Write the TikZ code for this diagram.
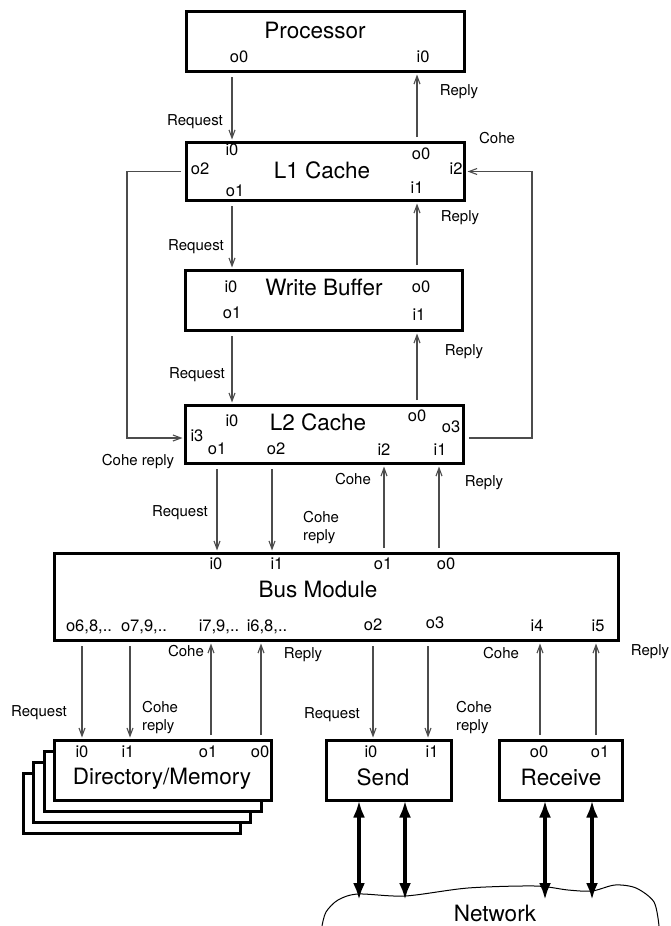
\documentclass[tikz,border=0pt]{standalone}
\usepackage{fontspec}
\setmainfont{TeX Gyre Heros}
\usetikzlibrary{arrows.meta}

\begin{document}
\begin{tikzpicture}[x=1pt,y=-1pt,
 box/.style={draw,line width=3pt,fill=white,inner sep=0pt,outer sep=0pt},
 ttl/.style={font=\fontsize{22.5}{26}\selectfont,inner sep=0pt},
 port/.style={font=\fontsize{16.5}{19}\selectfont,inner sep=0pt},
 lbl/.style={font=\fontsize{15}{18}\selectfont,inner sep=0pt,align=left},
 sig/.style={draw=black!70,line width=1.1pt,shorten <=5.5pt,shorten >=3pt,
  -{Straight Barb[length=8pt,width=6pt]}},
 link/.style={line width=4.5pt,{Latex[length=17pt,width=12pt]}-{Latex[length=17pt,width=12pt]}}]
 \useasboundingbox (0,0) rectangle (670,926);
 % columns of the connectors
 \foreach \n/\x in {xA/232,xB/417,xC/217,xD/272,xE/384,xF/439,xG/82,xH/130,xI/211,
  xJ/261,xK/373,xL/428,xM/540,xN/596}
  \coordinate (\n) at (\x,0);
 % boxes
 \node[box,minimum width=278pt,minimum height=60pt] (proc) at (325.5,41.5) {};
 \node[box,minimum width=278pt,minimum height=58pt] (l1) at (325.5,171.5) {};
 \node[box,minimum width=277pt,minimum height=60pt] (wb) at (324,300.5) {};
 \node[box,minimum width=278pt,minimum height=58pt] (l2) at (324.5,434.5) {};
 \node[box,minimum width=564pt,minimum height=87pt] (bus) at (336.5,597) {};
 \coordinate (dirc) at (163,770.5);
 \foreach \k in {3,2,1}
  \node[box,minimum width=217pt,minimum height=60pt] (dir\k) at ([shift={(-10.5*\k,11*\k)}]dirc) {};
 \node[box,minimum width=217pt,minimum height=60pt] (dir) at (dirc) {};
 \node[box,minimum width=125pt,minimum height=60pt] (send) at (389,770.5) {};
 \node[box,minimum width=123pt,minimum height=60pt] (recv) at (561,770.5) {};
 % titles
 \node[ttl] (procT) at (315,30) {Processor};
 \node[ttl] (l1T) at (322,170) {L1 Cache};
 \node[ttl] (wbT) at (324,287) {Write Buffer};
 \node[ttl] (l2T) at (318,422) {L2 Cache};
 \node[ttl] (busT) at (318,589) {Bus Module};
 \node[ttl] (dirT) at (162,779) {Directory/Memory};
 \node[ttl] (sendT) at (383,777) {Send};
 \node[ttl] (recvT) at (561,777) {Receive};
 % ports
 \foreach \n/\t/\x/\y in {pO0/o0/239/57,pI0/i0/423/57,
  aI0/i0/232/150,aO0/o0/421/154,aO2/o2/200/169,aI2/i2/456/169,aO1/o1/235/191,aI1/i1/417/188,
  wI0/i0/231/287,wO0/o0/421/287,wO1/o1/232/313,wI1/i1/419/315,
  bI0/i0/232/421,bO0/o0/417/416,bO3/o3/451/427,bI3/i3/197/436,bO1/o1/217/449,bO2/o2/276/449,
  bI2/i2/384/450,bI1/i1/440/450,
  mI0/i0/216/564,mI1/i1/277/564,mO1/o1/383/564,mO0/o0/446/564,
  mO2/o2/373/625,mO3/o3/435/623,mI4/i4/537/626,mI5/i5/598/626,
  dI0/i0/82/752,dI1/i1/128/752,dO1/o1/208/752,dO0/o0/260/752,
  sI0/i0/371/752,sI1/i1/432/752,rO0/o0/539/752,rO1/o1/600/752}
  \node[port] (\n) at (\x,\y) {\t};
 \node[port] (mO6) at (89,627) {o6,8,..};
 \node[port] (mO7) at (144,627) {o7,9,..};
 \node[port] (mI7) at (219,627) {i7,9,..};
 \node[port] (mI6) at (267,627) {i6,8,..};
 % processor / L1 / write buffer / L2
 \draw[sig] (proc.south -| xA) -- (l1.north -| xA);
 \draw[sig] (l1.north -| xB) -- (proc.south -| xB);
 \draw[sig] (l1.south -| xA) -- (wb.north -| xA);
 \draw[sig] (wb.north -| xB) -- (l1.south -| xB);
 \draw[sig] (wb.south -| xA) -- (l2.north -| xA);
 \draw[sig] (l2.north -| xB) -- (wb.south -| xB);
 \coordinate (loopL) at (127,438);
 \coordinate (loopR) at (532,438);
 \draw[sig] (l1.west) -| (loopL) -- (l2.west |- loopL);
 \draw[sig] (l2.east |- loopR) -- (loopR) |- (l1.east);
 \node[lbl] (r1) at (195,122) {Request};
 \node[lbl] (p1) at (459,92) {Reply};
 \node[lbl] (c1) at (497,138) {Cohe};
 \node[lbl] (r2) at (196,247) {Request};
 \node[lbl] (p2) at (460,218) {Reply};
 \node[lbl] (r3) at (197,375) {Request};
 \node[lbl] (p3) at (464,352) {Reply};
 \node[lbl] (c2) at (138,462) {Cohe reply};
 % L2 / bus
 \draw[sig] (l2.south -| xC) -- (bus.north -| xC);
 \draw[sig] (l2.south -| xD) -- (bus.north -| xD);
 \draw[sig] (bus.north -| xE) -- (l2.south -| xE);
 \draw[sig] (bus.north -| xF) -- (l2.south -| xF);
 \node[lbl] (c3) at (353,479) {Cohe};
 \node[lbl] (p4) at (484,483) {Reply};
 \node[lbl] (r4) at (180,513) {Request};
 \node[lbl,anchor=west] (c4) at (303,527.5) {Cohe\\reply};
 % bus / directory
 \draw[sig] (bus.south -| xG) -- (dir.north -| xG);
 \draw[sig] (bus.south -| xH) -- (dir.north -| xH);
 \draw[sig] (dir.north -| xI) -- (bus.south -| xI);
 \draw[sig] (dir.north -| xJ) -- (bus.south -| xJ);
 \node[lbl] (c5) at (186,651) {Cohe};
 \node[lbl] (p5) at (303,655) {Reply};
 \node[lbl] (r5) at (39,713) {Request};
 \node[lbl,anchor=west] (c6) at (142,717.5) {Cohe\\reply};
 % bus / send / receive
 \draw[sig] (bus.south -| xK) -- (send.north -| xK);
 \draw[sig] (bus.south -| xL) -- (send.north -| xL);
 \draw[sig] (recv.north -| xM) -- (bus.south -| xM);
 \draw[sig] (recv.north -| xN) -- (bus.south -| xN);
 \node[lbl] (c7) at (501,653) {Cohe};
 \node[lbl] (p6) at (650,652) {Reply};
 \node[lbl] (r6) at (332,715) {Request};
 \node[lbl,anchor=west] (c8) at (456,718) {Cohe\\reply};
 % network
 \draw[line width=1pt] plot[smooth] coordinates {(322,926) (326,912) (338,900) (358,894)
  (405,896) (468,888) (535,886) (568,890) (592,891) (615,885) (636,888) (654,902) (659,926)};
 \node[ttl] (net) at (495,913) {Network};
 \foreach \n/\x in {nA/359,nB/405,nC/545,nD/592}
  \coordinate (\n) at (\x,900);
 \draw[link] (send.south -| nA) -- (nA);
 \draw[link] (send.south -| nB) -- (nB);
 \draw[link] (recv.south -| nC) -- (nC);
 \draw[link] (recv.south -| nD) -- (nD);
\end{tikzpicture}
\end{document}
